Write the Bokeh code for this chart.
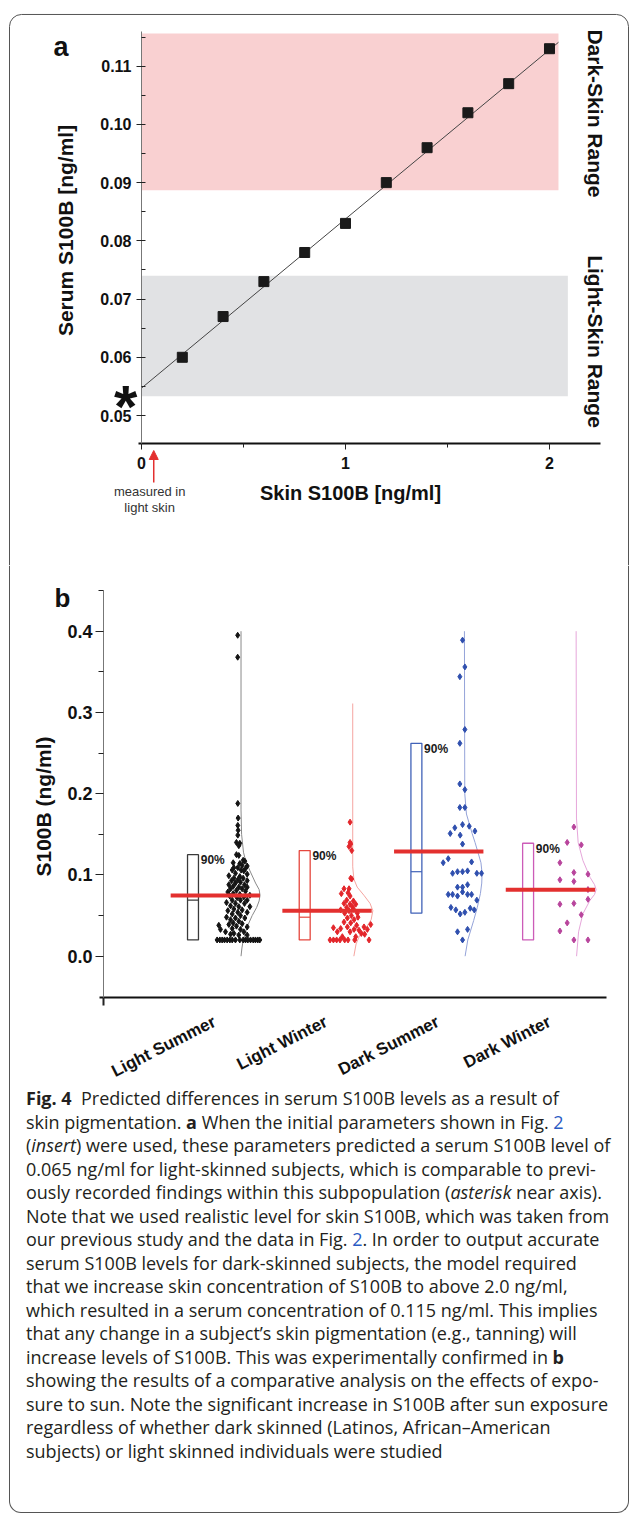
import math
import numpy as np
from bokeh.plotting import figure
from bokeh.models import (Label, Arrow, NormalHead, FixedTicker, Div, Range1d,
                          NumeralTickFormatter, CustomJSTickFormatter)
from bokeh.layouts import column
from bokeh.embed import file_html
from bokeh.resources import INLINE

# ---------------- Panel a data ----------------
skin_x = [0.2, 0.4, 0.6, 0.8, 1.0, 1.2, 1.4, 1.6, 1.8, 2.0]
serum_y = [0.060, 0.067, 0.073, 0.078, 0.083, 0.090, 0.096, 0.102, 0.107, 0.113]
fit_x = [0.0, 2.044]
fit_y = [0.0547, 0.1141]
band_right = [2.044, 2.09]          # dark-skin, light-skin
band_bottom = [0.0887, 0.0533]
band_top = [0.1156, 0.0740]
band_names = ["Dark-Skin Range", "Light-Skin Range"]
asterisk_serum = 0.0516
measured_skin = 0.06
a_xticks = [0, 1, 2]
a_xminor = [0.5, 1.5]
a_yticks = [0.05, 0.06, 0.07, 0.08, 0.09, 0.10, 0.11]
a_yminor = [0.055, 0.065, 0.075, 0.085, 0.095, 0.105, 0.115]
a_xlim = (0.0, 2.25)
a_ylim = (0.04519, 0.11596)

# ---------------- Panel b data ----------------
groups = ["Light Summer", "Light Winter", "Dark Summer", "Dark Winter"]
box_low = [0.020, 0.020, 0.053, 0.020]
box_high = [0.125, 0.130, 0.262, 0.139]
box_median = [0.069, 0.048, 0.104, 0.082]
group_mean = [0.0748, 0.056, 0.129, 0.0817]
b_yticks = [0.0, 0.1, 0.2, 0.3, 0.4]
b_yminor = [0.05, 0.15, 0.25, 0.35, 0.45]
b_ylim = (-0.0505, 0.45)

ls_jitter = [0.40, 0.40, 0.401, 0.404, 0.401, 0.404, 0.401, 0.389, 0.419, 0.410,
             0.410, 0.389, 0.449, 0.464, 0.360, 0.419, 0.440, 0.485, 0.366, 0.401,
             0.470, 0.351, 0.431, 0.455, 0.380, 0.485, 0.321, 0.419, 0.366, 0.449,
             0.401, 0.345, 0.485, 0.425, 0.380, 0.321, 0.461, 0.360, 0.410, 0.485,
             0.336, 0.440, 0.389, 0.312, 0.470, 0.360, 0.419, 0.509, 0.330, 0.395,
             0.455, 0.351, 0.425, 0.485, 0.300, 0.380, 0.461, 0.336, 0.410, 0.509,
             0.366, 0.440, 0.312, 0.401, 0.485, 0.351, 0.425, 0.300, 0.380, 0.464,
             0.336, 0.410, 0.360, 0.440, 0.321, 0.389, 0.231, 0.246, 0.485, 0.351,
             0.425, 0.291, 0.366, 0.455, 0.336, 0.410, 0.485,
             0.216, 0.240, 0.261, 0.282, 0.306, 0.330, 0.351, 0.380, 0.419, 0.449,
             0.470, 0.491, 0.515, 0.539, 0.559, 0.580, 0.598]
ls_values = [0.395, 0.368, 0.188, 0.170, 0.161, 0.155, 0.149, 0.140, 0.139, 0.136,
             0.124, 0.125, 0.118, 0.117, 0.115, 0.114, 0.112, 0.111, 0.109, 0.109,
             0.108, 0.106, 0.106, 0.105, 0.102, 0.101, 0.099, 0.098, 0.096, 0.096,
             0.094, 0.093, 0.093, 0.091, 0.090, 0.088, 0.088, 0.086, 0.085, 0.085,
             0.083, 0.083, 0.081, 0.079, 0.080, 0.077, 0.076, 0.075, 0.074, 0.072,
             0.073, 0.069, 0.069, 0.069, 0.066, 0.065, 0.065, 0.062, 0.061, 0.061,
             0.058, 0.057, 0.056, 0.054, 0.054, 0.052, 0.050, 0.048, 0.047, 0.047,
             0.045, 0.043, 0.041, 0.040, 0.039, 0.037, 0.038, 0.033, 0.036, 0.034,
             0.033, 0.030, 0.028, 0.030, 0.027, 0.026, 0.026,
             0.020, 0.020, 0.020, 0.020, 0.020, 0.020, 0.020, 0.020, 0.020, 0.020,
             0.020, 0.020, 0.020, 0.020, 0.020, 0.020, 0.020]

lw_jitter = [0.406, 0.406, 0.412, 0.397, 0.421, 0.412, 0.421, 0.352, 0.397, 0.388,
             0.328, 0.406, 0.376, 0.436, 0.352, 0.406, 0.457, 0.427, 0.376, 0.322,
             0.436, 0.397, 0.358, 0.471, 0.418, 0.382, 0.477, 0.442, 0.352, 0.412,
             0.591, 0.465, 0.382, 0.531, 0.257, 0.322, 0.442, 0.486, 0.561, 0.292,
             0.406, 0.507, 0.537, 0.337, 0.457,
             0.227, 0.257, 0.286, 0.316, 0.358, 0.388, 0.448, 0.576]
lw_values = [0.165, 0.140, 0.138, 0.135, 0.130, 0.096, 0.095, 0.083, 0.083, 0.078,
             0.077, 0.074, 0.069, 0.068, 0.065, 0.064, 0.064, 0.061, 0.060, 0.057,
             0.058, 0.056, 0.053, 0.053, 0.050, 0.047, 0.048, 0.045, 0.042, 0.041,
             0.039, 0.038, 0.036, 0.036, 0.035, 0.034, 0.033, 0.032, 0.033, 0.030,
             0.030, 0.028, 0.027, 0.024, 0.024,
             0.020, 0.020, 0.020, 0.020, 0.020, 0.020, 0.020, 0.020]

ds_jitter = [0.413, 0.434, 0.389, 0.434, 0.389, 0.389, 0.434, 0.389, 0.434, 0.413,
             0.344, 0.473, 0.303, 0.392, 0.524, 0.413, 0.285, 0.240, 0.494, 0.324,
             0.368, 0.413, 0.458, 0.541, 0.583, 0.368, 0.413, 0.458, 0.285, 0.324,
             0.368, 0.413, 0.458, 0.494, 0.541, 0.309, 0.353, 0.392, 0.434, 0.482,
             0.518, 0.368, 0.458, 0.413]
ds_values = [0.389, 0.356, 0.344, 0.279, 0.262, 0.212, 0.205, 0.183, 0.183, 0.162,
             0.158, 0.160, 0.151, 0.149, 0.154, 0.138, 0.120, 0.115, 0.116, 0.102,
             0.104, 0.104, 0.105, 0.102, 0.102, 0.085, 0.085, 0.088, 0.076, 0.076,
             0.074, 0.079, 0.076, 0.076, 0.069, 0.060, 0.057, 0.052, 0.054, 0.059,
             0.057, 0.030, 0.033, 0.020]

dw_jitter = [0.410, 0.350, 0.476, 0.285, 0.410, 0.536, 0.285, 0.410, 0.536, 0.285,
             0.410, 0.536, 0.476, 0.350, 0.285, 0.410, 0.536]
dw_values = [0.159, 0.140, 0.137, 0.115, 0.103, 0.101, 0.094, 0.092, 0.082, 0.064,
             0.065, 0.070, 0.051, 0.041, 0.031, 0.020, 0.020]

# distribution curves (value, drawn width)
ls_curve_y = [0.0, 0.01, 0.02, 0.036, 0.05, 0.06, 0.068, 0.075, 0.082, 0.09, 0.105, 0.118, 0.128, 0.15, 0.18, 0.40]
ls_curve_w = [0.0, 0.008, 0.02, 0.054, 0.10, 0.14, 0.162, 0.17, 0.162, 0.13, 0.08, 0.04, 0.022, 0.005, 0.0, 0.0]
lw_curve_y = [0.0, 0.015, 0.025, 0.035, 0.045, 0.056, 0.065, 0.075, 0.085, 0.095, 0.11, 0.311]
lw_curve_w = [0.01, 0.03, 0.06, 0.12, 0.165, 0.18, 0.155, 0.10, 0.04, 0.01, 0.0, 0.0]
ds_curve_y = [0.0, 0.02, 0.044, 0.06, 0.077, 0.09, 0.102, 0.115, 0.126, 0.14, 0.151, 0.175, 0.2, 0.4]
ds_curve_w = [0.006, 0.03, 0.083, 0.115, 0.143, 0.155, 0.158, 0.148, 0.125, 0.095, 0.069, 0.018, 0.003, 0.0]
dw_curve_y = [0.0, 0.03, 0.052, 0.069, 0.076, 0.082, 0.088, 0.097, 0.118, 0.14, 0.17, 0.4]
dw_curve_w = [0.004, 0.022, 0.06, 0.125, 0.165, 0.179, 0.165, 0.125, 0.06, 0.018, 0.003, 0.0]

caption_lines = [
    "<b>Fig. 4</b>&nbsp; Predicted differences in serum S100B levels as a result of",
    "skin pigmentation. <b>a</b> When the initial parameters shown in Fig. <span style='color:#2a5bc4'>2</span>",
    "(<i>insert</i>) were used, these parameters predicted a serum S100B level of",
    "0.065 ng/ml for light-skinned subjects, which is comparable to previ-",
    "ously recorded findings within this subpopulation (<i>asterisk</i> near axis).",
    "Note that we used realistic level for skin S100B, which was taken from",
    "our previous study and the data in Fig. <span style='color:#2a5bc4'>2</span>. In order to output accurate",
    "serum S100B levels for dark-skinned subjects, the model required",
    "that we increase skin concentration of S100B to above 2.0 ng/ml,",
    "which resulted in a serum concentration of 0.115 ng/ml. This implies",
    "that any change in a subject\u2019s skin pigmentation (e.g., tanning) will",
    "increase levels of S100B. This was experimentally confirmed in <b>b</b>",
    "showing the results of a comparative analysis on the effects of expo-",
    "sure to sun. Note the significant increase in S100B after sun exposure",
    "regardless of whether dark skinned (Latinos, African\u2013American",
    "subjects) or light skinned individuals were studied",
]

# ---------------- styles ----------------
FONT = "Liberation Sans"
PINK = "#f9d0d1"
GREY = "#e1e2e4"
RED = "#e3302f"
FRAME = "#555555"
scatter_colors = ["#141414", "#e3262b", "#2f4fae", "#b8449c"]
box_colors = ["#3a3a3a", "#e5473e", "#4062b8", "#cc5cb8"]
curve_colors = ["#8a8a8a", "#f5a5a0", "#94a3d9", "#e6a6da"]

W = 629


def lab(p, x, y, text, size, bold=True, color="#111111", **kw):
    p.add_layout(Label(x=x, y=y, text=text, text_font=FONT, text_font_size=f"{size}px",
                       text_font_style="bold" if bold else "normal", text_color=color, **kw))


def style_axis(ax, size, line_color, line_width=1):
    ax.axis_line_color = line_color
    ax.axis_line_width = line_width
    ax.major_tick_line_color = "#222222"
    ax.minor_tick_line_color = "#222222"
    ax.major_label_text_font = FONT
    ax.major_label_text_font_style = "bold"
    ax.major_label_text_font_size = f"{size}px"
    ax.major_label_text_color = "#111111"


def bare_figure(height, xr, yr):
    p = figure(width=W, height=height, x_range=Range1d(*xr), y_range=Range1d(*yr),
               output_backend="svg", toolbar_location=None, title=None,
               min_border=0, min_border_left=0, min_border_right=0,
               min_border_top=0, min_border_bottom=0)
    p.grid.visible = False
    p.outline_line_color = None
    return p


# ---------------- Panel a (frame = whole canvas, axes at fixed locations) ----------------
# canvas 629 x 565; x: 204 px per unit, y-axis at x=141; y: 5822 px per unit
pa = bare_figure(565, (-0.69118, 2.39216), (0.02424, 0.12128))

# outer figure border (top part with rounded corners)
pa.segment(x0=[-0.58824, -0.64706, 2.3873], y0=[0.11888, 0.11682, 0.11682],
           x1=[2.3284, -0.64706, 2.3873], y1=[0.11888, 0.02424, 0.02424],
           line_color=FRAME, line_width=1)
pa.arc(x=[-0.58824, 2.3284], y=[0.11682, 0.11682], radius=12, radius_units="screen",
       start_angle=[math.pi / 2, 0.0], end_angle=[math.pi, math.pi / 2],
       line_color=FRAME, line_width=1)

pa.quad(left=[0, 0], right=band_right, bottom=band_bottom, top=band_top,
        fill_color=[PINK, GREY], line_color=None)
pa.line(fit_x, fit_y, line_color="#444444", line_width=1)
pa.scatter(skin_x, serum_y, marker="square", size=10, color="#1a1a1a")

xa = pa.xaxis[0]
xa.fixed_location = a_ylim[0]
xa.bounds = (-0.015, a_xlim[1])
xa.ticker = FixedTicker(ticks=a_xticks, minor_ticks=a_xminor)
style_axis(xa, 16, "#111111", 2)
xa.major_tick_out = 6
xa.major_tick_in = 0
xa.minor_tick_out = 4
xa.minor_tick_in = 0
xa.major_label_standoff = 7

ya = pa.yaxis[0]
ya.fixed_location = a_xlim[0]
ya.bounds = a_ylim
ya.ticker = FixedTicker(ticks=a_yticks, minor_ticks=a_yminor)
ya.formatter = NumeralTickFormatter(format="0.00")
style_axis(ya, 16, "#777777", 1)
ya.major_tick_in = 4
ya.major_tick_out = 5
ya.minor_tick_in = 4
ya.minor_tick_out = 0
ya.major_label_standoff = 5

lab(pa, -0.431, 0.11321, "a", 27, text_align="left", text_baseline="alphabetic")
lab(pa, -0.3725, 0.08178, "Serum S100B [ng/ml]", 21, angle=math.pi / 2,
    text_align="center", text_baseline="middle")
lab(pa, 1.0245, 0.03661, "Skin S100B [ng/ml]", 20, text_align="center", text_baseline="alphabetic")
lab(pa, 2.2255, 0.10188, band_names[0], 21, angle=-math.pi / 2, text_align="center", text_baseline="middle")
lab(pa, 2.2255, 0.06271, band_names[1], 21, angle=-math.pi / 2, text_align="center", text_baseline="middle")
lab(pa, -0.078, asterisk_serum, "*", 60, text_align="center", text_baseline="alphabetic")
lab(pa, 0.040, 0.03695, "measured in", 13, bold=False, color="#333333",
    text_align="center", text_baseline="alphabetic")
lab(pa, 0.040, 0.03420, "light skin", 13, bold=False, color="#333333",
    text_align="center", text_baseline="alphabetic")
pa.add_layout(Arrow(end=NormalHead(size=9, fill_color=RED, line_color=RED),
                    x_start=measured_skin, y_start=0.03850, x_end=measured_skin, y_end=0.04399,
                    line_color=RED, line_width=1.5))

# ---------------- Panel b ----------------
# canvas 629 x 520; x: 111.7 px per group unit (group 0 box at x=192.5); y: 812.5 px per unit
pb = bare_figure(520, (-1.72337, 3.90779), (-0.15914, 0.48086))
pb.segment(x0=[-1.64279, 3.8989], y0=[-0.15914, -0.15914], x1=[-1.64279, 3.8989], y1=[0.48086, 0.48086],
           line_color=FRAME, line_width=1)

gx = np.arange(len(groups), dtype=float)
half = 0.049
jitters = [ls_jitter, lw_jitter, ds_jitter, dw_jitter]
values = [ls_values, lw_values, ds_values, dw_values]
curves_y = [ls_curve_y, lw_curve_y, ds_curve_y, dw_curve_y]
curves_w = [ls_curve_w, lw_curve_w, ds_curve_w, dw_curve_w]

for i in range(len(groups)):
    cx = gx[i] + 0.43 + np.array(curves_w[i])
    pb.line(cx, curves_y[i], line_color=curve_colors[i], line_width=1)

pb.quad(left=gx - half, right=gx + half, bottom=box_low, top=box_high,
        fill_color=None, line_color=box_colors, line_width=1.3)
pb.segment(x0=gx - half, x1=gx + half, y0=box_median, y1=box_median, line_color=box_colors, line_width=1.2)

for i in range(len(groups)):
    pb.scatter(gx[i] + np.array(jitters[i]), values[i], marker="diamond", size=6,
               color=scatter_colors[i])

pb.segment(x0=gx - 0.2, x1=gx + 0.6, y0=group_mean, y1=group_mean, line_color=RED, line_width=4)

for i in range(len(groups)):
    lab(pb, gx[i] + half + 0.02, box_high[i] - 0.0072, "90%", 12, text_align="left",
        text_baseline="alphabetic", color="#1a1a1a")
    lab(pb, gx[i] + 0.193, -0.0792, groups[i], 17, angle=0.47, text_align="right",
        text_baseline="middle")

yaxis_x = -0.8013
xb = pb.xaxis[0]
xb.fixed_location = b_ylim[0]
xb.bounds = (-0.837, 3.702)
xb.ticker = FixedTicker(ticks=[yaxis_x], minor_ticks=[])
xb.formatter = CustomJSTickFormatter(code="return ''")
style_axis(xb, 12, "#111111", 2)
xb.major_tick_out = 8
xb.major_tick_in = 0
xb.major_tick_line_width = 2

yb = pb.yaxis[0]
yb.fixed_location = yaxis_x
yb.bounds = b_ylim
yb.ticker = FixedTicker(ticks=b_yticks, minor_ticks=b_yminor)
yb.formatter = NumeralTickFormatter(format="0.0")
style_axis(yb, 18, "#777777", 1)
yb.major_tick_in = 0
yb.major_tick_out = 8
yb.minor_tick_in = 0
yb.minor_tick_out = 5
yb.major_label_standoff = 3

lab(pb, -1.24, 0.4413, "b", 26, text_align="left", text_baseline="alphabetic")
lab(pb, -1.338, 0.1842, "S100B (ng/ml)", 21, angle=math.pi / 2, text_align="center", text_baseline="middle")

# ---------------- Caption ----------------
cap_html = ("<div style=\"font-family:'Open Sans'; font-size:18px; line-height:23.5px; color:#231f20;"
            " padding-left:16px; padding-top:2px; white-space:nowrap;\">"
            + "<br>".join(caption_lines) + "</div>")
cap = Div(text=cap_html, width=620, height=428, margin=(0, 0, 0, 9),
          styles={"border-left": f"1px solid {FRAME}", "border-bottom": f"1px solid {FRAME}",
                  "border-right": f"1px solid {FRAME}",
                  "border-bottom-left-radius": "12px", "border-bottom-right-radius": "12px",
                  "box-sizing": "border-box", "overflow": "hidden"})

page = column(pa, pb, cap)

open("out.html", "w").write(file_html(page, INLINE))
